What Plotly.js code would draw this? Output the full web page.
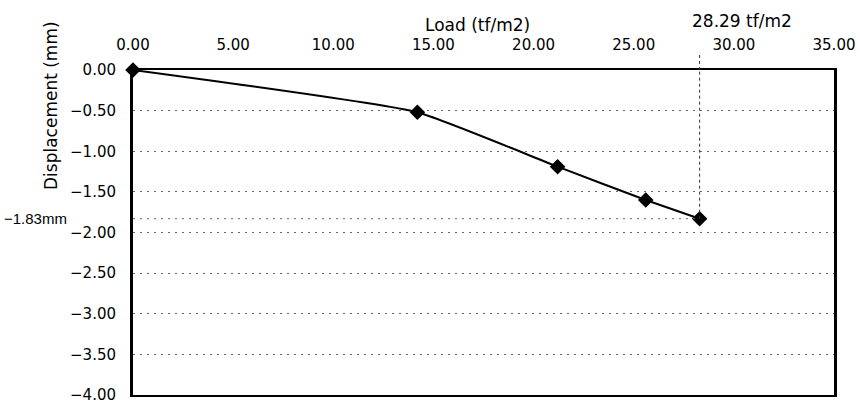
<!DOCTYPE html>
<html>
<head>
<meta charset="utf-8">
<script src="https://cdn.plot.ly/plotly-3.0.1.min.js"></script>
<style>html,body{margin:0;padding:0;background:#fff}#chart{width:860px;height:407px}</style>
</head>
<body>
<div id="chart"></div>
<script>
const loads = [0, 14.2, 21.2, 25.6, 28.29];
const displacements = [0, -0.52, -1.19, -1.60, -1.83];
const xTicks = [0, 5, 10, 15, 20, 25, 30, 35];
const yTicks = [0, -0.5, -1, -1.5, -2, -2.5, -3, -3.5, -4];
const ultimateLoad = 28.29;
const ultimateDisp = -1.83;

const fmt = v => v.toFixed(2).replace('-', '\u2212');

const trace = {
  x: loads,
  y: displacements,
  type: 'scatter',
  mode: 'lines+markers',
  line: {color: '#000', width: 2, shape: 'spline', smoothing: 0.4},
  marker: {symbol: 'diamond', size: 12, color: '#000'},
  cliponaxis: false,
  hoverinfo: 'x+y'
};

const tickFont = {family: '"DejaVu Sans", sans-serif', size: 15, color: '#000'};
const titleFont = {family: '"DejaVu Sans", sans-serif', size: 17, color: '#000'};

const layout = {
  width: 860, height: 407,
  margin: {l: 133, r: 26, t: 70, b: 12},
  paper_bgcolor: '#fff', plot_bgcolor: '#fff',
  showlegend: false,
  font: tickFont,
  xaxis: {
    side: 'top', range: [0, 35], tickvals: xTicks, ticktext: xTicks.map(fmt),
    showgrid: false, zeroline: false, showline: true, linecolor: '#000', linewidth: 2,
    mirror: true, ticks: '', ticklabelstandoff: 12, tickfont: tickFont, automargin: false
  },
  yaxis: {
    range: [-4, 0], tickvals: yTicks, ticktext: yTicks.map(fmt),
    showgrid: true, gridcolor: '#666', griddash: '2px,5px', gridwidth: 1,
    zeroline: false, showline: true, linecolor: '#000', linewidth: 3, mirror: true,
    ticks: '', ticklabelstandoff: 11, tickfont: tickFont, automargin: false
  },
  shapes: [
    {type: 'line', xref: 'x', yref: 'y', x0: ultimateLoad, x1: ultimateLoad, y0: ultimateDisp, y1: 0,
     line: {color: '#333', width: 1, dash: '3px,3px'}},
    {type: 'line', xref: 'x', yref: 'paper', x0: ultimateLoad, x1: ultimateLoad, y0: 1, y1: 1.05,
     line: {color: '#333', width: 1, dash: '3px,3px'}},
    {type: 'line', xref: 'x', yref: 'y', x0: 0, x1: ultimateLoad, y0: ultimateDisp, y1: ultimateDisp,
     line: {color: '#666', width: 1, dash: '2px,5px'}}
  ],
  annotations: [
    {text: 'Load (tf/m2)', xref: 'paper', yref: 'paper', x: 0.492, y: 1.14, showarrow: false,
     font: titleFont, xanchor: 'center', yanchor: 'middle'},
    {text: ultimateLoad.toFixed(2) + ' tf/m2', xref: 'paper', yref: 'paper', x: 0.869, y: 1.15, showarrow: false,
     font: titleFont, xanchor: 'center', yanchor: 'middle'},
    {text: 'Displacement (mm)', xref: 'paper', yref: 'paper', x: -0.118, y: 0.89, showarrow: false, textangle: -90,
     font: titleFont, xanchor: 'center', yanchor: 'middle'},
    {text: fmt(ultimateDisp) + 'mm', xref: 'paper', yref: 'y', x: -0.187, y: ultimateDisp, showarrow: false,
     font: {family: '"Liberation Sans", Arial, sans-serif', size: 15, color: '#000'}, xanchor: 'left', yanchor: 'middle'}
  ]
};

Plotly.newPlot('chart', [trace], layout, {displayModeBar: false, staticPlot: true});
</script>
</body>
</html>
